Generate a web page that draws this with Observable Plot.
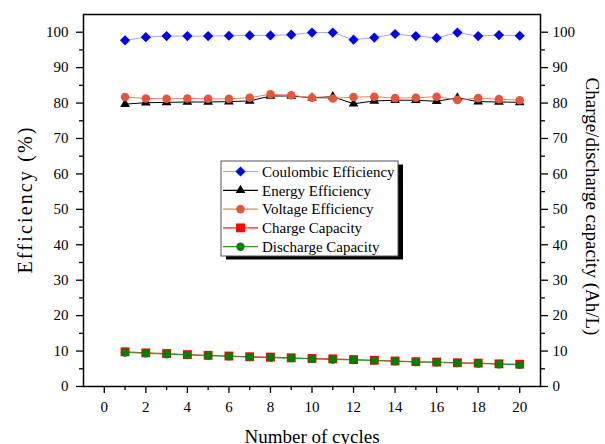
<!DOCTYPE html>
<html>
<head>
<meta charset="utf-8">
<script src="https://cdn.jsdelivr.net/npm/d3@7"></script>
<script src="https://cdn.jsdelivr.net/npm/@observablehq/plot@0.6"></script>
<style>
  html, body { margin: 0; padding: 0; background: white; }
  #chart { position: relative; width: 605px; height: 444px; overflow: hidden; }
</style>
</head>
<body>
<div id="chart"></div>
<script>
const cycles = [1, 2, 3, 4, 5, 6, 7, 8, 9, 10, 11, 12, 13, 14, 15, 16, 17, 18, 19, 20];
const coulombic = [97.7, 98.6, 98.9, 98.9, 98.9, 99.0, 99.1, 99.1, 99.3, 99.9, 99.9, 97.9, 98.5, 99.5, 98.9, 98.4, 99.9, 98.9, 99.2, 99.0];
const energy = [79.7, 80.1, 80.2, 80.3, 80.3, 80.4, 80.6, 82.0, 82.0, 81.5, 81.8, 79.8, 80.6, 80.8, 80.8, 80.5, 81.5, 80.4, 80.3, 80.2];
const voltage = [81.7, 81.3, 81.2, 81.3, 81.2, 81.2, 81.5, 82.5, 82.2, 81.5, 81.3, 81.7, 81.8, 81.4, 81.5, 81.8, 80.9, 81.4, 81.1, 80.8];
const chargeCap = [9.8, 9.5, 9.3, 9.0, 8.8, 8.6, 8.4, 8.3, 8.1, 7.9, 7.8, 7.6, 7.4, 7.2, 7.0, 6.9, 6.7, 6.6, 6.4, 6.3];
const dischargeCap = [9.6, 9.4, 9.1, 8.9, 8.7, 8.5, 8.3, 8.1, 8.0, 7.8, 7.6, 7.5, 7.3, 7.1, 6.9, 6.8, 6.6, 6.5, 6.3, 6.1];

const xMajorTicks = [0, 2, 4, 6, 8, 10, 12, 14, 16, 18, 20];
const xMinorTicks = [1, 3, 5, 7, 9, 11, 13, 15, 17, 19];
const yMajorTicks = [0, 10, 20, 30, 40, 50, 60, 70, 80, 90, 100];
const yMinorTicks = [5, 15, 25, 35, 45, 55, 65, 75, 85, 95];

const xLabel = "Number of cycles";
const yLabel = "Efficiency (%)";
const y2Label = "Charge/discharge capacity (Ah/L)";

const series = [
  {name: "Coulombic Efficiency", values: coulombic, line: "#a3a6ff", fill: "#0000ff", symbol: "diamond2", r: 4.6},
  {name: "Energy Efficiency", values: energy, line: "#000000", fill: "#000000", symbol: "triangle", r: 3.6},
  {name: "Voltage Efficiency", values: voltage, line: "#f0805f", fill: "#e8563a", symbol: "circle", r: 4.3},
  {name: "Charge Capacity", values: chargeCap, line: "#ff2020", fill: "#ff0000", symbol: "square", r: 5},
  {name: "Discharge Capacity", values: dischargeCap, line: "#2a9a2a", fill: "#008000", symbol: "circle", r: 4.2}
];
// draw order: energy below voltage; charge below discharge
const drawOrder = [1, 2, 0, 3, 4];

const marks = [];
for (const i of drawOrder) {
  const s = series[i];
  const rows = cycles.map((c, k) => ({cycle: c, value: s.values[k]}));
  marks.push(Plot.line(rows, {x: "cycle", y: "value", stroke: s.line, strokeWidth: 1}));
}
for (const i of drawOrder) {
  const s = series[i];
  const rows = cycles.map((c, k) => ({cycle: c, value: s.values[k]}));
  marks.push(Plot.dot(rows, {x: "cycle", y: "value", symbol: () => s.symbol, r: s.r, fill: s.fill, stroke: "none"}));
}

const axisStyle = {stroke: "black", strokeWidth: 1.3, fontSize: 15, label: null};
const empty = () => "";

const plot = Plot.plot({
  width: 605,
  height: 444,
  marginLeft: 83,
  marginRight: 65,
  marginTop: 14,
  marginBottom: 58,
  style: {fontFamily: "'Liberation Serif', 'Times New Roman', serif", fontSize: "15px", background: "white", color: "black"},
  x: {domain: [-1, 21]},
  y: {domain: [0, 105]},
  symbol: {type: "identity"},
  marks: [
    ...marks,
    Plot.frame({stroke: "black", strokeWidth: 1.5}),
    Plot.axisX({...axisStyle, ticks: xMajorTicks, tickSize: 7, tickPadding: 8}),
    Plot.axisX({...axisStyle, ticks: xMinorTicks, tickSize: 4, tickFormat: empty}),
    Plot.axisY({...axisStyle, anchor: "left", ticks: yMajorTicks, tickSize: 7, tickPadding: 8}),
    Plot.axisY({...axisStyle, anchor: "left", ticks: yMinorTicks, tickSize: 4, tickFormat: empty}),
    Plot.axisY({...axisStyle, anchor: "right", ticks: yMajorTicks, tickSize: 7, tickPadding: 5}),
    Plot.axisY({...axisStyle, anchor: "right", ticks: yMinorTicks, tickSize: 4, tickFormat: empty}),
    Plot.text([xLabel], {text: d => d, frameAnchor: "bottom", textAnchor: "middle", dy: 56, lineAnchor: "bottom", fontSize: 19, fill: "black"}),
    Plot.text([yLabel], {text: d => d, frameAnchor: "left", textAnchor: "middle", lineAnchor: "middle", rotate: -90, dx: -58, fontSize: 20, fill: "black"}),
    Plot.text([y2Label], {text: d => d, frameAnchor: "right", textAnchor: "middle", lineAnchor: "middle", rotate: 90, dx: 52, dy: 6, fontSize: 19, fill: "black"})
  ]
});

document.getElementById("chart").appendChild(plot);

// widen the left axis title to the reference's length
d3.select(plot).selectAll("text").filter(function() { return this.textContent === yLabel; })
  .attr("textLength", 146).attr("lengthAdjust", "spacing");

// Legend
const svg = d3.select(plot);
const lg = svg.append("g").attr("font-family", "'Liberation Serif', 'Times New Roman', serif").attr("font-size", 15).attr("text-anchor", "start");
const bx = 221, by = 161, bw = 177, bh = 95;
lg.append("rect").attr("x", bx + 5).attr("y", by + 3.5).attr("width", bw).attr("height", bh).attr("fill", "black");
lg.append("rect").attr("x", bx).attr("y", by).attr("width", bw).attr("height", bh).attr("fill", "white").attr("stroke", "#555").attr("stroke-width", 1);
const symMap = {diamond2: d3.symbolDiamond2, triangle: d3.symbolTriangle, circle: d3.symbolCircle, square: d3.symbolSquare};
series.forEach((s, i) => {
  const y = 171.5 + i * 18.8;
  lg.append("line").attr("x1", 223).attr("x2", 258).attr("y1", y).attr("y2", y).attr("stroke", s.line).attr("stroke-width", 1.2);
  lg.append("path").attr("d", d3.symbol(symMap[s.symbol], Math.PI * s.r * s.r)()).attr("transform", `translate(240.5,${y})`).attr("fill", s.fill);
  lg.append("text").attr("x", 262).attr("y", y).attr("dy", "0.35em").attr("fill", "black").attr("text-anchor", "start").text(s.name);
});
</script>
</body>
</html>
